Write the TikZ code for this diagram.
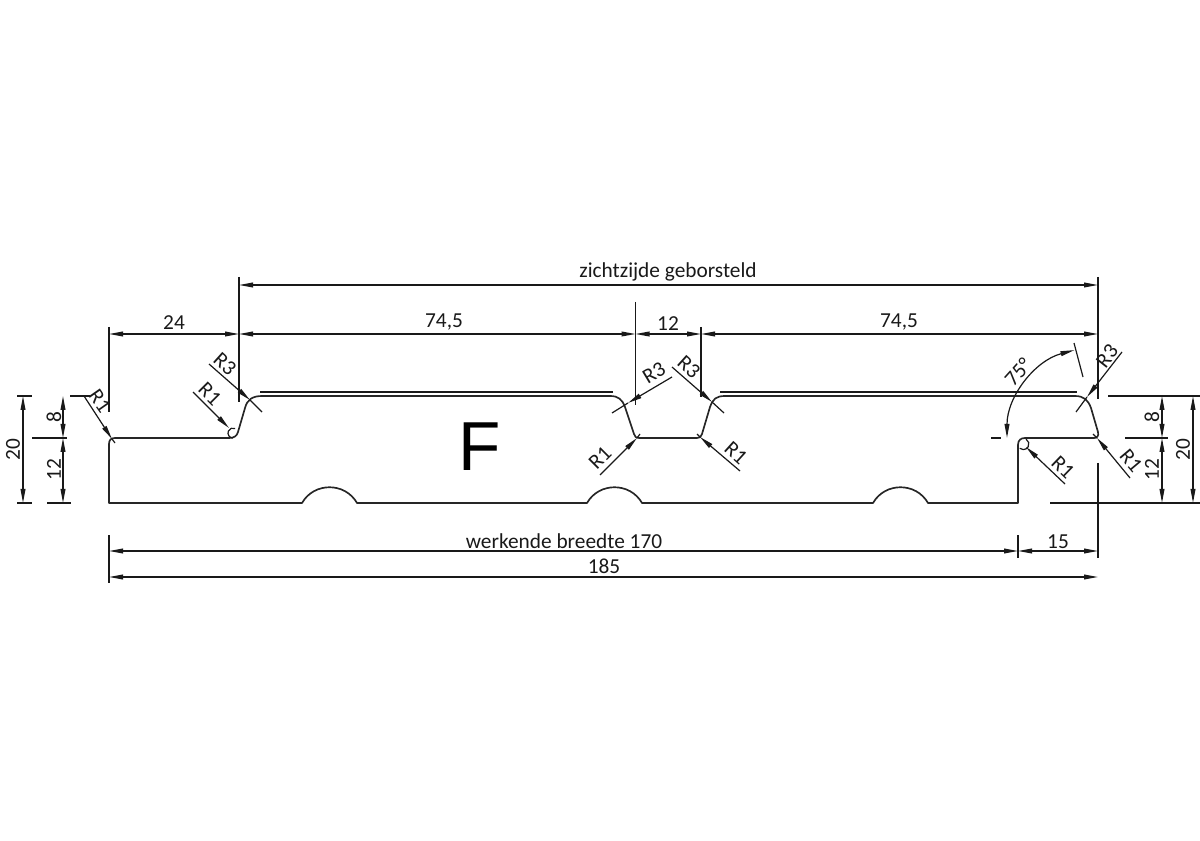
\documentclass[tikz,border=0pt]{standalone}
\usepackage{fontspec}
\setmainfont{Carlito}
\newfontfamily\bigf{Liberation Sans}
\usetikzlibrary{arrows.meta}
\tikzset{
  profile/.style={line width=1.25pt,line join=round,black!85},
  thin line/.style={line width=0.9pt,black!90},
  dim/.style={line width=0.9pt,black!90,{Stealth[length=10.5pt,width=3.6pt,inset=0pt]}-{Stealth[length=10.5pt,width=3.6pt,inset=0pt]}},
  lead/.style={line width=0.9pt,black!90,-{Stealth[length=10.5pt,width=3.6pt,inset=0pt]}},
  lbl/.style={font=\fontsize{16}{18}\selectfont,inner sep=0pt,black!90}
}
\begin{document}
\begin{tikzpicture}[x=0.75pt,y=-0.75pt]
\useasboundingbox (0,0) rectangle (1200,841);
% profile
\draw[profile] (109,503) -- (109,444) .. controls (109,440) and (111,438) .. (115,438)
  -- (229,438) .. controls (234,438) and (237,436) .. (238,432)
  -- (245,408) .. controls (247,400) and (252,396) .. (262,396)
  -- (610,396) .. controls (618,396) and (622,399) .. (625,407)
  -- (634,434) .. controls (635,437) and (636,438) .. (639,438)
  -- (697,438) .. controls (700,438) and (701,437) .. (702,434)
  -- (710,407) .. controls (713,399) and (716,396) .. (725,396)
  -- (1075,396) .. controls (1084,396) and (1088,400) .. (1091,408)
  -- (1098,432) .. controls (1099,436) and (1097,438) .. (1094,438)
  -- (1025,438) .. controls (1021,438) and (1018,440) .. (1018,445)
  -- (1018,503) -- (928,503) .. controls (916,482) and (885,482) .. (873,503)
  -- (642,503) .. controls (630,482) and (599,482) .. (587,503)
  -- (357,503) .. controls (345,482) and (314,482) .. (302,503) -- cycle;
\draw[thin line] (260,392) -- (613,392);
\draw[thin line] (720,392) -- (1077,392);
% extension lines
\draw[thin line] (109,327) -- (109,412);
\draw[thin line] (239,277) -- (239,402);
\draw[thin line] (635.5,302) -- (635.5,405);
\draw[thin line] (701,327) -- (701,397);
\draw[thin line] (1098,277) -- (1098,399);
\draw[thin line] (1098,463) -- (1098,558);
\draw[thin line] (1018,535) -- (1018,558);
\draw[thin line] (109,535) -- (109,583);
% left ticks
\draw[thin line] (17,396) -- (32,396);
\draw[thin line] (17,503) -- (32,503);
\draw[thin line] (70,396) -- (90,396);
\draw[thin line] (32,438) -- (67,438);
\draw[thin line] (47,503) -- (71,503);
% right ticks
\draw[thin line] (1108,396) -- (1200,396);
\draw[thin line] (1125,438) -- (1168,438);
\draw[thin line] (1050,503) -- (1200,503);
\draw[thin line] (991,438) -- (1001,438);
% horizontal dimensions
\draw[dim] (239,285) -- (1098,285);
\draw[dim] (109,334) -- (239,334);
\draw[dim] (239,334) -- (635.5,334);
\draw[dim] (635.5,334) -- (701,334);
\draw[dim] (701,334) -- (1098,334);
\draw[dim] (109,551) -- (1018,551);
\draw[dim] (1018,551) -- (1098,551);
\draw[dim] (109,577) -- (1098,577);
% vertical dimensions
\draw[dim] (23,396) -- (23,503);
\draw[dim] (63,396) -- (63,438);
\draw[dim] (63,438) -- (63,503);
\draw[dim] (1162,396) -- (1162,438);
\draw[dim] (1162,438) -- (1162,503);
\draw[dim] (1193,396) -- (1193,503);
% radius leaders
\draw[lead] (84,396) -- (112,439);
\draw[thin line] (112,439) -- (115,443);
\draw[lead] (209,364) -- (250,400);
\draw[thin line] (250,400) -- (262,412);
\draw[lead] (193,392) -- (229,428);
\draw[thin line] (235.1,428.5) arc (-65:-270:5);
\draw[lead] (672,377) -- (628,403);
\draw[thin line] (628,403) -- (612,413);
\draw[lead] (672,367) -- (712,402);
\draw[thin line] (712,402) -- (724,413);
\draw[lead] (600,475) -- (637,438);
\draw[thin line] (637,438) -- (640,434);
\draw[lead] (740,471) -- (700,437);
\draw[thin line] (700,437) -- (697,434);
\draw[lead] (1122,352) -- (1087,397);
\draw[thin line] (1087,397) -- (1076,412);
\draw[lead] (1130,478) -- (1097,438);
\draw[thin line] (1097,438) -- (1093,434);
\draw[lead] (1065,484) -- (1026,447);
\draw[thin line] (1026.1,439.15) arc (-60:130:5.6);
% angle
\draw[dim] (1007,438) arc (-180:-105:91);
\draw[thin line] (1074,343) -- (1083,377);
% labels
\node[lbl] (t0) at (668,272) {zichtzijde geborsteld};
\node[lbl] (t1) at (174,323) {24};
\node[lbl] (t2) at (444,322) {74,5};
\node[lbl] (t3) at (668,324) {12};
\node[lbl] (t4) at (899,322) {74,5};
\node[lbl] (t5) at (564,541) {werkende breedte 170};
\node[lbl] (t6) at (1058,542) {15};
\node[lbl] (t7) at (604,566) {185};
\node[lbl,rotate=90] (t8) at (13,450) {20};
\node[lbl,rotate=90] (t9) at (54,417) {8};
\node[lbl,rotate=90] (t10) at (54,470) {12};
\node[lbl,rotate=90] (t11) at (1152,417) {8};
\node[lbl,rotate=90] (t12) at (1152,470) {12};
\node[lbl,rotate=90] (t13) at (1183,450) {20};
\node[lbl,rotate=-55] (r1) at (100,401) {R1};
\node[lbl,rotate=-42] (r2) at (225,364) {R3};
\node[lbl,rotate=-45] (r3) at (210,394) {R1};
\node[lbl,rotate=31] (r4) at (654,373) {R3};
\node[lbl,rotate=-42] (r5) at (689,367) {R3};
\node[lbl,rotate=45] (r6) at (600,458) {R1};
\node[lbl,rotate=-42] (r7) at (736,453) {R1};
\node[lbl,rotate=52] (r8) at (1107,356) {R3};
\node[lbl,rotate=-50] (r9) at (1131,461) {R1};
\node[lbl,rotate=-44] (r10) at (1063,467) {R1};
\node[lbl,rotate=48] (a1) at (1018,372) {75°};
\node[inner sep=0pt,font=\bigf\fontsize{52}{56}\selectfont] (f) at (480,447) {F};
\end{tikzpicture}
\end{document}
